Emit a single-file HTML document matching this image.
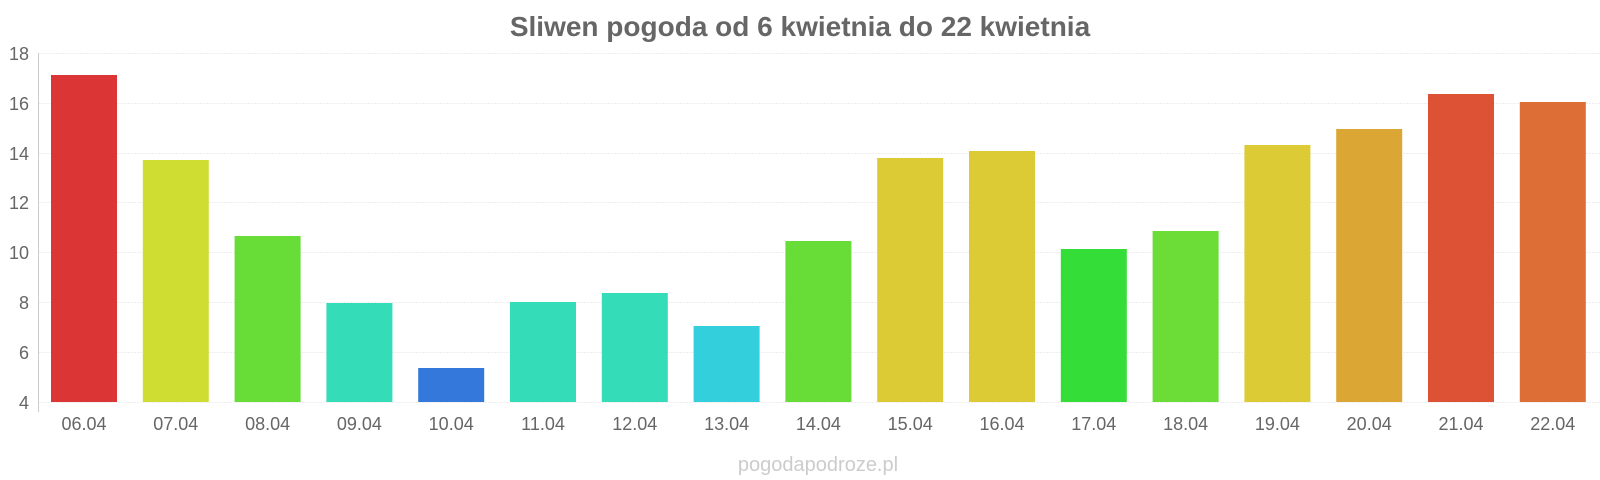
<!DOCTYPE html>
<html><head><meta charset="utf-8"><style>
html,body{margin:0;padding:0;background:#fff}
svg{display:block;font-family:"Liberation Sans",sans-serif}
</style></head><body>
<svg width="1600" height="480" viewBox="0 0 1600 480" xmlns="http://www.w3.org/2000/svg">
<text x="800" y="36" text-anchor="middle" font-size="28" font-weight="bold" fill="#666">Sliwen pogoda od 6 kwietnia do 22 kwietnia</text>
<g stroke="#eee" stroke-width="1" stroke-dasharray="2,1">
<line x1="38" x2="1600" y1="53.5" y2="53.5"/>
<line x1="38" x2="1600" y1="103.5" y2="103.5"/>
<line x1="38" x2="1600" y1="153.5" y2="153.5"/>
<line x1="38" x2="1600" y1="202.5" y2="202.5"/>
<line x1="38" x2="1600" y1="252.5" y2="252.5"/>
<line x1="38" x2="1600" y1="302.5" y2="302.5"/>
<line x1="38" x2="1600" y1="352.5" y2="352.5"/>
<line x1="38" x2="1600" y1="402.5" y2="402.5"/>
</g>
<line x1="38.5" x2="38.5" y1="53" y2="412" stroke="#ccc"/>
<g font-size="18" fill="#666" text-anchor="end">
<text x="29" y="60">18</text>
<text x="29" y="110">16</text>
<text x="29" y="160">14</text>
<text x="29" y="209">12</text>
<text x="29" y="259">10</text>
<text x="29" y="309">8</text>
<text x="29" y="359">6</text>
<text x="29" y="409">4</text>
</g>
<g>
<rect x="51" y="75" width="66" height="327" fill="#db3535"/>
<rect x="142.8" y="160" width="66" height="242" fill="#cfdd33"/>
<rect x="234.6" y="236" width="66" height="166" fill="#68dd37"/>
<rect x="326.4" y="303" width="66" height="99" fill="#34dcb8"/>
<rect x="418.2" y="368" width="66" height="34" fill="#3478db"/>
<rect x="510" y="302" width="66" height="100" fill="#34dcb8"/>
<rect x="601.8" y="293" width="66" height="109" fill="#34dcb8"/>
<rect x="693.6" y="326" width="66" height="76" fill="#34cfdc"/>
<rect x="785.4" y="241" width="66" height="161" fill="#68dd37"/>
<rect x="877.2" y="158" width="66" height="244" fill="#dccb34"/>
<rect x="969" y="151" width="66" height="251" fill="#dccb34"/>
<rect x="1060.8" y="249" width="66" height="153" fill="#34dd37"/>
<rect x="1152.6" y="231" width="66" height="171" fill="#6cdd37"/>
<rect x="1244.4" y="145" width="66" height="257" fill="#dccb34"/>
<rect x="1336.2" y="129" width="66" height="273" fill="#dca634"/>
<rect x="1428" y="94" width="66" height="308" fill="#dd5135"/>
<rect x="1519.8" y="102" width="66" height="300" fill="#dd6e35"/>
</g>
<g font-size="18" fill="#666" text-anchor="middle">
<text x="84" y="430">06.04</text>
<text x="175.8" y="430">07.04</text>
<text x="267.6" y="430">08.04</text>
<text x="359.4" y="430">09.04</text>
<text x="451.2" y="430">10.04</text>
<text x="543" y="430">11.04</text>
<text x="634.8" y="430">12.04</text>
<text x="726.6" y="430">13.04</text>
<text x="818.4" y="430">14.04</text>
<text x="910.2" y="430">15.04</text>
<text x="1002" y="430">16.04</text>
<text x="1093.8" y="430">17.04</text>
<text x="1185.6" y="430">18.04</text>
<text x="1277.4" y="430">19.04</text>
<text x="1369.2" y="430">20.04</text>
<text x="1461" y="430">21.04</text>
<text x="1552.8" y="430">22.04</text>
</g>
<text x="818" y="471" text-anchor="middle" font-size="20" fill="#ccc">pogodapodroze.pl</text>
</svg>
</body></html>
